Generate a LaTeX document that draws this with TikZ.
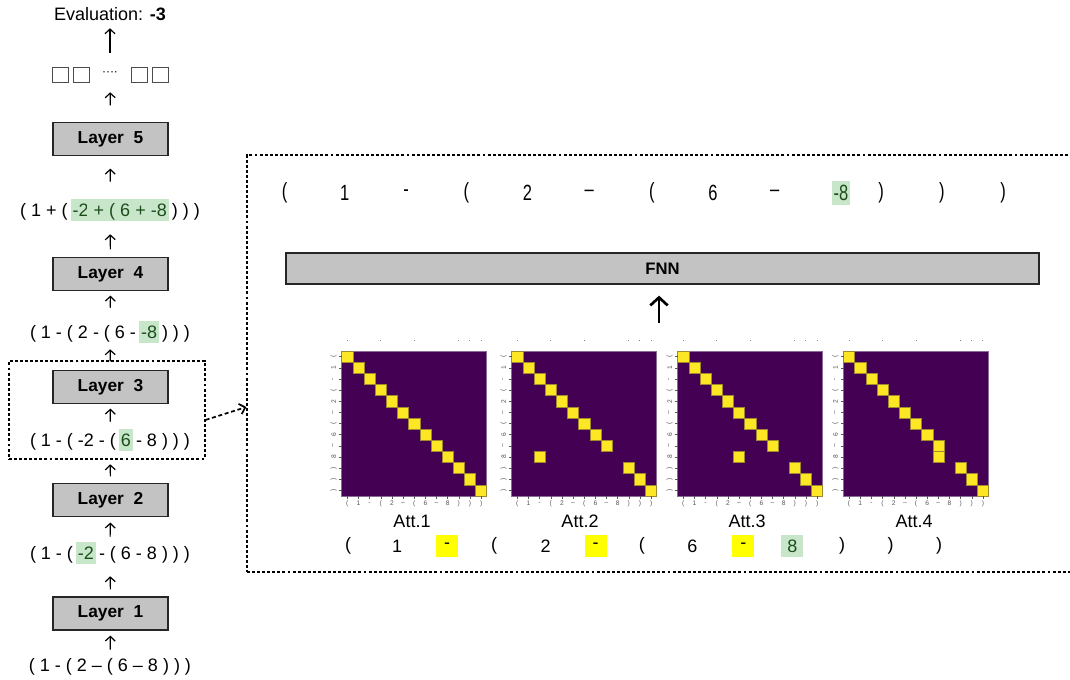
\documentclass[tikz,border=0pt]{standalone}
\usepackage{fontspec}
\setmainfont{Liberation Sans}
\usetikzlibrary{arrows.meta,calc}
\definecolor{vpur}{HTML}{440154}
\definecolor{vyel}{HTML}{FDE725}
\definecolor{ybord}{HTML}{A08A30}
\definecolor{hlg}{HTML}{C8E6C9}
\definecolor{hlt}{HTML}{1B4D1B}
\definecolor{boxg}{HTML}{C3C3C3}
\definecolor{tickg}{HTML}{555555}
\definecolor{hmframe}{HTML}{8A6A9A}
\definecolor{hly}{HTML}{FFFF00}
\newcommand\fmain{\fontsize{13.5}{16}\selectfont}
\newcommand\flayer{\fontsize{13}{15}\selectfont\bfseries}
\newcommand\ftop{\fontsize{16.5}{19}\selectfont}
\newcommand\fsmall{\fontsize{5}{6}\selectfont}
\newcommand\cnd[1]{\scalebox{0.75}[1]{#1}}
\newcommand\hlbox[2]{\hspace{-1.5pt}{\setlength{\fboxsep}{0pt}\colorbox{#1}{\rule[-3.5pt]{0pt}{16.5pt}\hspace{1.5pt}#2\hspace{1.5pt}}}\hspace{-1.5pt}}
\newcommand\gx[1]{\hlbox{hlg}{\color{hlt}#1}}
\newcommand\tkl{(}
\newcommand\tkr{)}
\newcommand\tkd{–}
\def\cs{11.1538}
\newcommand\hmap[3]{%
  \node[hmapnode] (#1) at (#2+72.5,423.5) {};
  \foreach \r in {0,...,12}{%
    \ifnum\r=9 \def\cc{#3}\else\edef\cc{\r}\fi
    \filldraw[fill=vyel,draw=ybord,line width=0.35pt] ({#2+\cc*\cs},{351+\r*\cs}) rectangle ++(\cs,\cs);
  }
  \foreach \tk [count=\i from 0] in {\tkl,1,-,\tkl,2,\tkd,\tkl,6,\tkd,8,\tkr,\tkr,\tkr}{%
    \draw[tickg,line width=0.3pt] ({#2+(\i+0.5)*\cs},496) -- ++(0,2.5);
    \node[ticklab] (#1b\i) at ({#2+(\i+0.5)*\cs},503.5) {\tk};
    \draw[tickg,line width=0.3pt] ({#2},{351+(\i+0.5)*\cs}) -- ++(-2.5,0);
    \node[ticklab,rotate=90] (#1l\i) at ({#2-8},{351+(\i+0.5)*\cs}) {\tk};
  }
  \foreach \k in {0,3,6,10,11,12} \fill[tickg!70] ({#2+(\k+0.5)*\cs-0.5},339.5) rectangle ++(1,1);
}
\begin{document}
\begin{tikzpicture}[x=0.75pt,y=-0.75pt,
  every node/.style={inner sep=0pt, font=\fmain},
  layer/.style={draw=black!85, line width=0.9pt, fill=boxg, minimum width=86.25pt, minimum height=24.75pt, font=\flayer},
  expr/.style={minimum height=15pt},
  upar/.style={line width=0.9pt, -{Straight Barb[length=3.5pt,width=7.5pt]}},
  dbox/.style={draw, line width=0.9pt, dash pattern=on 2.2pt off 1.6pt},
  conn/.style={line width=1.3pt, dash pattern=on 3pt off 2pt, -{Straight Barb[length=4pt,width=8pt]}},
  bigar/.style={line width=2pt, -{Straight Barb[length=6pt,width=13pt]}},
  sqbox/.style={draw=black!70, line width=0.75pt, minimum width=12pt, minimum height=11.25pt},
  hmapnode/.style={fill=vpur, draw=hmframe, line width=0.4pt, minimum width=108.75pt, minimum height=108.75pt},
  ticklab/.style={font=\fsmall, text=tickg},
  toptok/.style={font=\ftop},
  yhl/.style={fill=hly, minimum width=16.5pt, minimum height=16.5pt},
  ghl/.style={fill=hlg, minimum width=16.5pt, minimum height=16.5pt, text=hlt},
]
\useasboundingbox (0,0) rectangle (1070,679);
\clip (0,0) rectangle (1070,679);

% ---------- left column ----------
\node[expr] (eval) at (110,14) {Evaluation: \textbf{-3}};
\node[minimum width=87pt, minimum height=11.25pt] (sqrow) at (110,74.5) {};
\node[sqbox] (sq1) at (60,74.5) {};
\node[sqbox] (sq2) at (81,74.5) {};
\node[font=\fontsize{9}{10}\selectfont] (sqdots) at (110,73.5) {····};
\node[sqbox] (sq3) at (139,74.5) {};
\node[sqbox] (sq4) at (160,74.5) {};

\node[layer] (L5) at (110.5,139) {Layer\ \ 5};
\node[expr] (e5) at (110,210) {( 1 + ( \gx{-2}\gx{\ + ( 6 + -8} ) ) )};
\node[layer] (L4) at (110.5,274) {Layer\ \ 4};
\node[expr] (e4) at (110,332) {( 1 - ( 2 - ( 6 - \gx{-8} ) ) )};
\node[layer] (L3) at (110.5,387) {Layer\ \ 3};
\node[expr] (e3) at (110,440) {( 1 - ( -2 - ( \gx{6} - 8 ) ) )};
\node[layer] (L2) at (110.5,500) {Layer\ \ 2};
\node[expr] (e2) at (110,553) {( 1 - ( \gx{-2} - ( 6 - 8 ) ) )};
\node[layer] (L1) at (110.5,613.5) {Layer\ \ 1};
\node[expr] (e1) at (110,667) {( 1 - ( 2 – ( 6 – 8 ) ) )};

\draw[upar, shorten <=5.25pt, shorten >=3.75pt] (e1.north) -- (L1.south);
\draw[upar, shorten <=5.25pt, shorten >=9pt] (L1.north) -- (e2.south);
\draw[upar, shorten <=3.75pt, shorten >=4.1pt] (e2.north) -- (L2.south);
\draw[upar, shorten <=4.9pt, shorten >=9.75pt] (L2.north) -- (e3.south);
\draw[upar, shorten <=5.25pt, shorten >=3.4pt] (e3.north) -- (L3.south);
\draw[upar, shorten <=6.4pt, shorten >=4.5pt] (L3.north) -- (e4.south);
\draw[upar, shorten <=9.75pt, shorten >=3.4pt] (e4.north) -- (L4.south);
\draw[upar, shorten <=5.6pt, shorten >=9.75pt] (L4.north) -- (e5.south);
\draw[upar, shorten <=12.75pt, shorten >=9.4pt] (e5.north) -- (L5.south);
\draw[upar, shorten <=12.4pt, shorten >=7.5pt] (L5.north) -- (sqrow.south);
\draw[upar, shorten <=10.5pt, shorten >=3pt] (sqrow.north) -- (eval.south);

% dashed zoom boxes
\node[dbox, minimum width=147pt, minimum height=73.5pt] (zoomL) at (107,410) {};
\node[dbox, minimum width=632.25pt, minimum height=312.75pt] (zoomR) at (668.5,363.5) {};
\draw[conn] ($(zoomL.south east)!0.4!(zoomL.north east)$) -- ($(zoomR.south west)!0.396!(zoomR.north west)$);

% ---------- top token row ----------
\node[toptok] (t1) at (284.5,193) {\cnd{(}};
\node[toptok] (t2) at (344.6,193) {\cnd{1}};
\node[toptok] (t3) at (406.2,193) {\cnd{-}};
\node[toptok] (t4) at (466.3,193) {\cnd{(}};
\node[toptok] (t5) at (527.5,193) {\cnd{2}};
\node[toptok] (t6) at (589.1,193) {\cnd{–}};
\node[toptok] (t7) at (651.8,193) {\cnd{(}};
\node[toptok] (t8) at (713,193) {\cnd{6}};
\node[toptok] (t9) at (774.6,193) {\cnd{–}};
\node[toptok, fill=hlg, text=hlt, minimum width=14pt, minimum height=18pt] (t10) at (841,193) {\cnd{-8}};
\node[toptok] (t11) at (881.2,193) {\cnd{)}};
\node[toptok] (t12) at (941.8,193) {\cnd{)}};
\node[toptok] (t13) at (1003,193) {\cnd{)}};

% FNN
\node[draw=black!85, line width=0.9pt, fill=boxg, minimum width=564.75pt, minimum height=23.25pt, font=\fontsize{12.5}{14}\selectfont\bfseries] (fnn) at (662.5,268.5) {FNN};
\coordinate (attin) at (659,323);
\draw[bigar, shorten >=8.25pt] (attin) -- (attin |- fnn.south);

% ---------- heatmaps ----------
\hmap{h1}{341.7}{9}
\hmap{h2}{511.7}{2}
\hmap{h3}{677.7}{5}
\hmap{h4}{843.5}{8}

\node (a1) at (412,521) {Att.1};
\node (a2) at (580,521) {Att.2};
\node (a3) at (747,521) {Att.3};
\node (a4) at (914,521) {Att.4};

% ---------- bottom token row ----------
\node (b1) at (348,546) {(};
\node (b2) at (397,546) {1};
\node[yhl] (b3) at (447,546) {-};
\node (b4) at (494,546) {(};
\node (b5) at (545.7,546) {2};
\node[yhl] (b6) at (595.6,546) {-};
\node (b7) at (641.8,546) {(};
\node (b8) at (692.4,546) {6};
\node[yhl] (b9) at (743.4,546) {-};
\node[ghl] (b10) at (792.4,546) {8};
\node (b11) at (842,546) {)};
\node (b12) at (890.5,546) {)};
\node (b13) at (939,546) {)};
\end{tikzpicture}
\end{document}
